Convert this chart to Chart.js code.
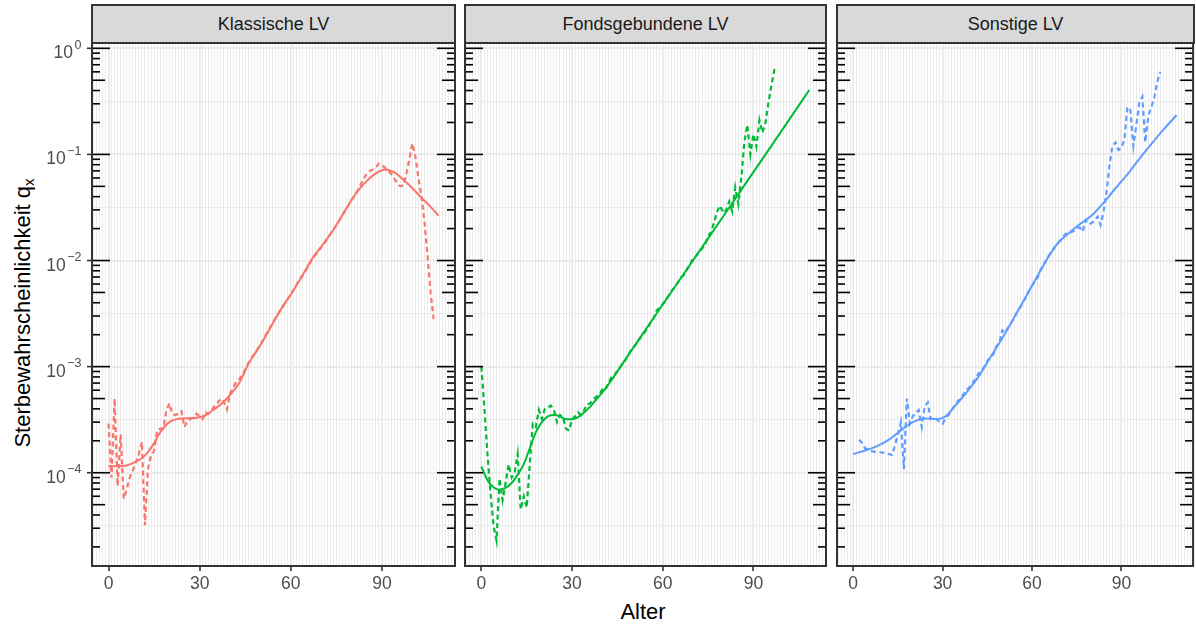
<!DOCTYPE html>
<html lang="de">
<head>
<meta charset="utf-8">
<title>Sterbewahrscheinlichkeiten nach Vertragsart</title>
<script src="https://cdn.jsdelivr.net/npm/chart.js@4.4.1/dist/chart.umd.min.js"></script>
<style>
  html, body { margin: 0; padding: 0; background: #fff; }
  #wrap {
    position: relative; width: 1196px; height: 625px; overflow: hidden;
    font-family: "Liberation Sans", Arial, sans-serif;
  }
  #wrap canvas { position: absolute; left: 0; top: 0; }
  .strip {
    position: absolute; top: 4px; height: 40px; box-sizing: border-box;
    background: #d9d9d9; border: 2px solid #333; color: #1a1a1a;
    font-size: 18px; line-height: 36px; text-align: center; white-space: nowrap;
  }
  .xtitle {
    position: absolute; left: 92px; width: 1102px; top: 601px;
    font-size: 22px; line-height: 22px; text-align: center; color: #000;
  }
  .ytitle {
    position: absolute; width: 500px; height: 26px; left: -227px; top: 300px;
    font-size: 22px; line-height: 26px; text-align: center; color: #000;
    transform: rotate(-90deg); white-space: nowrap;
  }
  .ytitle sub { font-size: 15px; vertical-align: -4px; line-height: 0; }
</style>
</head>
<body>
<div id="wrap">
  <div class="ytitle">Sterbewahrscheinlichkeit q<sub>x</sub></div>
  <div class="xtitle">Alter</div>
</div>
<script>
// Facetten
const panelTitles = ["Klassische LV", "Fondsgebundene LV", "Sonstige LV"];
const panelColors = ["#F8766D", "#00BA38", "#619CFF"];

// Achsen
const xBreaks = [0, 30, 60, 90];
const yDecades = [0, -1, -2, -3, -4];

// Rohe Sterbewahrscheinlichkeiten je Alter (gestrichelt)
const klassischStart = 0;
const klassischRaw = [
  2.9e-4, 9.0e-5, 5.0e-4, 7.5e-5, 2.3e-4, 5.7e-5, 7.0e-5, 9.0e-5, 1.05e-4, 1.25e-4,
  1.5e-4, 1.95e-4, 3.2e-5, 1.1e-4, 1.45e-4, 1.6e-4, 2.5e-4, 2.6e-4, 2.6e-4, 3.8e-4,
  4.5e-4, 3.6e-4, 3.5e-4, 3.6e-4, 3.8e-4, 2.7e-4, 3.1e-4, 3.2e-4, 3.3e-4, 3.6e-4,
  3.4e-4, 3.2e-4, 3.7e-4, 3.6e-4, 3.9e-4, 4.3e-4, 4.6e-4, 5.0e-4, 4.6e-4, 3.95e-4,
  5.6e-4, 6.3e-4, 7.2e-4, 7.6e-4, 8.3e-4, 9.4e-4, 1.08e-3, 1.2e-3, 1.32e-3, 1.45e-3,
  1.62e-3, 1.8e-3, 2.05e-3, 2.3e-3, 2.55e-3, 2.9e-3, 3.2e-3, 3.6e-3, 3.95e-3, 4.35e-3,
  4.8e-3, 5.3e-3, 6.0e-3, 6.7e-3, 7.3e-3, 8.1e-3, 9.0e-3, 1.03e-2, 1.12e-2, 1.22e-2,
  1.33e-2, 1.45e-2, 1.6e-2, 1.78e-2, 1.95e-2, 2.15e-2, 2.38e-2, 2.7e-2, 2.95e-2, 3.35e-2,
  3.75e-2, 4.1e-2, 4.6e-2, 5.2e-2, 5.9e-2, 6.6e-2, 7.0e-2, 7.2e-2, 7.6e-2, 8.2e-2,
  7.9e-2, 7.5e-2, 7.0e-2, 6.6e-2, 6.0e-2, 5.3e-2, 5.0e-2, 5.1e-2, 6.5e-2, 9.0e-2,
  1.27e-1, 9.5e-2, 6.0e-2, 4.0e-2, 2.3e-2, 1.1e-2, 5.0e-3, 2.8e-3
];

const fondsStart = 0;
const fondsRaw = [
  1.0e-3, 4.0e-4, 1.5e-4, 6.5e-5, 3.2e-5, 2.3e-5, 8.8e-5, 5.5e-5, 8.0e-5, 1.2e-4,
  9.0e-5, 1.0e-4, 1.5e-4, 4.5e-5, 6.0e-5, 4.7e-5, 1.2e-4, 2.9e-4, 2.7e-4, 3.9e-4,
  3.2e-4, 4.0e-4, 4.1e-4, 4.3e-4, 3.9e-4, 3.0e-4, 3.5e-4, 3.3e-4, 2.6e-4, 2.5e-4,
  3.2e-4, 3.4e-4, 3.7e-4, 3.5e-4, 3.9e-4, 4.4e-4, 4.5e-4, 4.9e-4, 5.2e-4, 5.5e-4,
  6.1e-4, 6.0e-4, 7.0e-4, 7.9e-4, 8.2e-4, 9.2e-4, 1.0e-3, 1.08e-3, 1.2e-3, 1.35e-3,
  1.5e-3, 1.6e-3, 1.75e-3, 1.95e-3, 2.1e-3, 2.3e-3, 2.6e-3, 2.85e-3, 3.4e-3, 3.55e-3,
  3.9e-3, 4.2e-3, 4.7e-3, 5.2e-3, 5.6e-3, 6.2e-3, 6.9e-3, 7.3e-3, 8.2e-3, 9.1e-3,
  1.05e-2, 1.1e-2, 1.2e-2, 1.3e-2, 1.4e-2, 1.7e-2, 1.85e-2, 2.3e-2, 2.9e-2, 3.3e-2,
  2.8e-2, 3.0e-2, 3.6e-2, 2.9e-2, 4.9e-2, 3.4e-2, 5.9e-2, 1.3e-1, 1.9e-1, 1.0e-1,
  1.55e-1, 1.18e-1, 2.1e-1, 1.6e-1, 2.0e-1, 3.1e-1, 4.5e-1, 6.4e-1
];

const sonstigeStart = 2;
const sonstigeRaw = [
  2.05e-4, 1.9e-4, 1.7e-4, 1.65e-4, 1.6e-4, 1.58e-4, 1.57e-4, 1.56e-4, 1.55e-4, 1.52e-4,
  1.5e-4, 1.47e-4, 1.8e-4, 2.3e-4, 3.0e-4, 1.08e-4, 5.0e-4, 2.9e-4, 3.4e-4, 3.7e-4,
  3.9e-4, 2.7e-4, 4.2e-4, 4.6e-4, 3.2e-4, 3.3e-4, 3.2e-4, 3.0e-4, 2.9e-4, 3.3e-4,
  3.5e-4, 3.9e-4, 4.3e-4, 4.7e-4, 5.0e-4, 5.5e-4, 6.0e-4, 6.4e-4, 7.0e-4, 7.6e-4,
  8.6e-4, 9.0e-4, 1.0e-3, 1.13e-3, 1.22e-3, 1.3e-3, 1.55e-3, 1.65e-3, 2.2e-3, 2.1e-3,
  2.35e-3, 2.6e-3, 2.85e-3, 3.3e-3, 3.6e-3, 4.1e-3, 4.5e-3, 5.2e-3, 5.8e-3, 6.4e-3,
  7.0e-3, 8.3e-3, 9.2e-3, 1.05e-2, 1.15e-2, 1.25e-2, 1.38e-2, 1.5e-2, 1.62e-2, 1.75e-2,
  1.85e-2, 1.85e-2, 1.9e-2, 2.0e-2, 2.05e-2, 1.87e-2, 2.4e-2, 2.2e-2, 2.25e-2, 2.4e-2,
  2.6e-2, 2.16e-2, 2.9e-2, 4.5e-2, 8.0e-2, 1.2e-1, 1.3e-1, 1.1e-1, 1.15e-1, 1.4e-1,
  2.8e-1, 2.6e-1, 1.2e-1, 1.9e-1, 3.1e-1, 3.5e-1, 1.3e-1, 2.3e-1, 2.8e-1, 3.4e-1,
  4.8e-1, 6.0e-1
];

// Geglaettete Kurven (durchgezogen)
const klassischSmoothAge = [0, 3, 6, 9, 12, 15, 17, 20, 23, 26, 29, 32, 35, 38, 40, 43, 46, 50, 53, 56,
  60, 64, 67, 70, 74, 78, 82, 86, 89, 91, 94, 97, 100, 103, 106, 108.6];
const klassischSmoothQ = [1.16e-4, 1.15e-4, 1.17e-4, 1.27e-4, 1.45e-4, 1.9e-4, 2.4e-4, 3.0e-4, 3.22e-4, 3.27e-4,
  3.3e-4, 3.5e-4, 4.0e-4, 4.7e-4, 5.4e-4, 7.0e-4, 1.05e-3, 1.6e-3, 2.25e-3, 3.2e-3,
  4.8e-3, 7.4e-3, 1.04e-2, 1.35e-2, 1.95e-2, 3.0e-2, 4.5e-2, 6.0e-2, 6.9e-2, 7.2e-2,
  6.8e-2, 5.8e-2, 4.8e-2, 3.9e-2, 3.2e-2, 2.65e-2];

const fondsSmoothAge = [0, 2, 4, 6, 8, 10, 12, 14, 16, 18, 20, 22, 24, 26, 28, 30, 32, 34, 36, 38,
  41, 50, 60, 70, 80, 90, 100, 108.5];
const fondsSmoothQ = [1.14e-4, 8.5e-5, 7.3e-5, 6.9e-5, 7.2e-5, 8.0e-5, 9.6e-5, 1.2e-4, 1.7e-4, 2.4e-4,
  3.0e-4, 3.4e-4, 3.5e-4, 3.4e-4, 3.2e-4, 3.2e-4, 3.35e-4, 3.7e-4, 4.2e-4, 4.9e-4,
  6.2e-4, 1.47e-3, 3.85e-3, 1.0e-2, 2.6e-2, 6.8e-2, 1.78e-1, 4.05e-1];

const sonstigeSmoothAge = [0, 4, 8, 12, 16, 20, 24, 28, 31, 34, 38, 42, 46, 50, 54, 58, 62, 65, 68, 72,
  76, 80, 84, 88, 92, 96, 100, 104, 108.5];
const sonstigeSmoothQ = [1.5e-4, 1.62e-4, 1.78e-4, 2.05e-4, 2.5e-4, 3.0e-4, 3.25e-4, 3.2e-4, 3.4e-4, 4.2e-4,
  5.7e-4, 8.0e-4, 1.22e-3, 1.85e-3, 2.9e-3, 4.6e-3, 7.3e-3, 1.03e-2, 1.38e-2, 1.78e-2,
  2.2e-2, 2.65e-2, 3.5e-2, 4.8e-2, 6.5e-2, 9.1e-2, 1.25e-1, 1.7e-1, 2.35e-1];

// Layout der drei Panels (linker/rechter Rand in px)
const W = 1196, H = 625;
const PANEL_TOP = 43, PANEL_BOTTOM = 566;
const panelBounds = [[92, 455], [465, 826], [837, 1194]];
const X_MIN = -5.43, X_MAX = 114.03;
const Y_MIN = Math.pow(10, -4.879), Y_MAX = Math.pow(10, 0.05);
const FONT = '"Liberation Sans", Arial, sans-serif';

const series = [
  { start: klassischStart, raw: klassischRaw, age: klassischSmoothAge, q: klassischSmoothQ },
  { start: fondsStart, raw: fondsRaw, age: fondsSmoothAge, q: fondsSmoothQ },
  { start: sonstigeStart, raw: sonstigeRaw, age: sonstigeSmoothAge, q: sonstigeSmoothQ }
];

const isDecade = v => Math.abs(Math.log10(v) - Math.round(Math.log10(v))) < 1e-6;

// Rahmen, Log-Ticks links/rechts und (nur erstes Panel) y-Beschriftung
const panelFrame = {
  id: "panelFrame",
  afterDraw(chart, args, opts) {
    const { ctx, chartArea: a } = chart;
    const y = chart.scales.y;
    const line = (x1, y1, x2, y2) => { ctx.beginPath(); ctx.moveTo(x1, y1); ctx.lineTo(x2, y2); ctx.stroke(); };
    ctx.save();
    ctx.strokeStyle = "#000";
    ctx.lineWidth = 1.6;
    for (let e = -5; e <= 0; e++) {
      for (let k = 1; k <= 9; k++) {
        const v = k * Math.pow(10, e);
        if (v < Y_MIN || v > Y_MAX) continue;
        const py = y.getPixelForValue(v);
        const len = k === 1 ? 18 : (k === 5 ? 13 : 8);
        line(a.left, py, a.left + len, py);
        line(a.right, py, a.right - len, py);
      }
    }
    ctx.strokeStyle = "#333";
    ctx.lineWidth = 2;
    ctx.strokeRect(a.left, a.top, a.right - a.left, a.bottom - a.top);

    if (opts.labels) {
      ctx.lineWidth = 1.6;
      ctx.fillStyle = "#4d4d4d";
      ctx.textBaseline = "alphabetic";
      ctx.textAlign = "left";
      yDecades.forEach(e => {
        const py = y.getPixelForValue(Math.pow(10, e));
        line(a.left - 5, py, a.left, py);
        const expText = e === 0 ? "0" : "\u2212" + (-e);
        ctx.font = "12.5px " + FONT;
        const expW = ctx.measureText(expText).width;
        ctx.font = "17.5px " + FONT;
        const baseW = ctx.measureText("10").width;
        const right = a.left - 10.5;
        ctx.fillText("10", right - expW - 1.5 - baseW, py + 10);
        ctx.font = "12.5px " + FONT;
        ctx.fillText(expText, right - expW, py + 0.5);
      });
    }
    ctx.restore();
  }
};

const wrap = document.getElementById("wrap");

panelTitles.forEach((title, i) => {
  const [L, R] = panelBounds[i];

  const strip = document.createElement("div");
  strip.className = "strip";
  strip.style.left = (L - 1) + "px";
  strip.style.width = (R - L + 2) + "px";
  strip.textContent = title;
  wrap.appendChild(strip);

  const canvas = document.createElement("canvas");
  canvas.width = W;
  canvas.height = H;
  wrap.appendChild(canvas);

  const s = series[i];
  const rawPoints = s.raw.map((q, j) => ({ x: s.start + j, y: q }));
  const smoothPoints = s.age.map((age, j) => ({ x: age, y: s.q[j] }));

  const yearTicks = [];
  for (let v = Math.ceil(X_MIN); v <= Math.floor(X_MAX); v++) yearTicks.push({ value: v });
  const yGridTicks = [];
  for (let e = 0; e >= -5; e--) {
    [e, e - 0.5].forEach(p => {
      const v = Math.pow(10, p);
      if (v >= Y_MIN && v <= Y_MAX) yGridTicks.push({ value: v });
    });
  }

  new Chart(canvas.getContext("2d"), {
    type: "line",
    data: {
      datasets: [
        {
          label: title + " roh",
          data: rawPoints,
          borderColor: panelColors[i],
          borderWidth: 2.2,
          borderDash: [5, 3.5],
          pointRadius: 0,
          tension: 0,
          fill: false
        },
        {
          label: title + " geglättet",
          data: smoothPoints,
          borderColor: panelColors[i],
          borderWidth: 2,
          pointRadius: 0,
          cubicInterpolationMode: "monotone",
          fill: false
        }
      ]
    },
    options: {
      responsive: false,
      animation: false,
      devicePixelRatio: 1,
      events: [],
      layout: { padding: { left: L, right: W - R, top: PANEL_TOP, bottom: 0 } },
      plugins: {
        legend: { display: false },
        tooltip: { enabled: false },
        panelFrame: { labels: i === 0 }
      },
      scales: {
        x: {
          type: "linear",
          min: X_MIN,
          max: X_MAX,
          afterBuildTicks: scale => { scale.ticks = yearTicks.slice(); },
          afterFit: scale => { scale.height = H - PANEL_BOTTOM; },
          border: { display: false },
          grid: {
            color: "#ebebeb",
            lineWidth: c => (xBreaks.includes(c.tick.value) ? 2 : 1),
            tickLength: 5,
            tickWidth: 1.6,
            tickColor: c => (xBreaks.includes(c.tick.value) ? "#333" : "rgba(0,0,0,0)")
          },
          ticks: {
            autoSkip: false,
            maxRotation: 0,
            padding: 3,
            color: "#4d4d4d",
            font: { family: FONT, size: 17.5 },
            callback: v => (xBreaks.includes(v) ? String(v) : "")
          }
        },
        y: {
          type: "logarithmic",
          min: Y_MIN,
          max: Y_MAX,
          afterBuildTicks: scale => { scale.ticks = yGridTicks.slice(); },
          afterFit: scale => { scale.width = 0; },
          border: { display: false },
          grid: {
            color: "#ebebeb",
            lineWidth: c => (isDecade(c.tick.value) ? 2 : 1),
            drawTicks: false
          },
          ticks: { display: false }
        }
      }
    },
    plugins: [panelFrame]
  });
});
</script>
</body>
</html>
